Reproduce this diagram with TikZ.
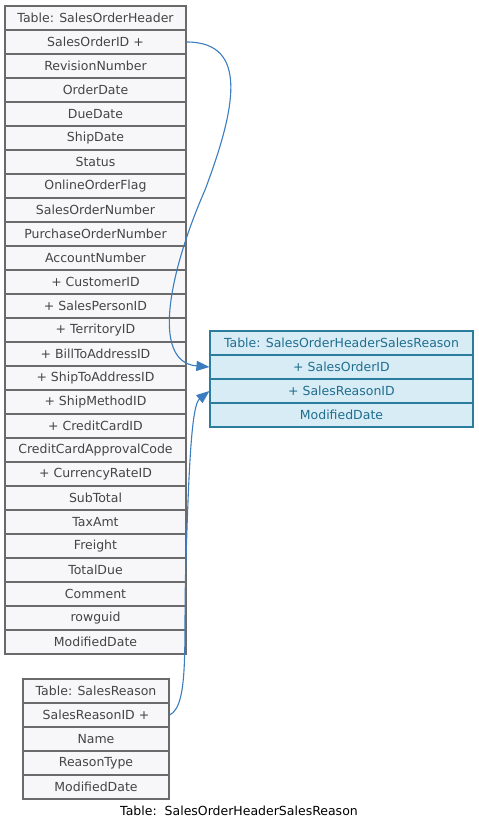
\documentclass[tikz,border=0pt]{standalone}
\usepackage{fontspec}
\setmainfont{DejaVu Sans}
\usetikzlibrary{arrows.meta}
\definecolor{gfill}{HTML}{F7F7F9}
\definecolor{gline}{HTML}{6A6A6A}
\definecolor{gtext}{HTML}{444444}
\definecolor{bfill}{HTML}{D8ECF6}
\definecolor{bline}{HTML}{2A7D9C}
\definecolor{btext}{HTML}{1F6E8E}
\definecolor{edgec}{HTML}{3B7DBF}
\begin{document}
\begin{tikzpicture}[x=1pt,y=-1pt,
  grayrow/.style={draw=gline,fill=gfill,text=gtext,line width=1.3pt,minimum height=24pt,inner sep=0pt,font=\fontsize{12.5}{14}\selectfont},
  bluerow/.style={draw=bline,fill=bfill,text=btext,line width=1.2pt,minimum height=24pt,inner sep=0pt,font=\fontsize{12.5}{14}\selectfont},
  relarrow/.style={draw=edgec,line width=1.1pt,-{Triangle[length=13pt,width=10pt]}},
  lbl/.style={text=black,font=\fontsize{12.5}{14}\selectfont}]
\useasboundingbox (0,0) rectangle (479,831);
\fill[white] (0,0) rectangle (479,831);
% main table
\foreach \t [count=\i from 0] in {Table: SalesOrderHeader,SalesOrderID +,RevisionNumber,OrderDate,DueDate,ShipDate,Status,OnlineOrderFlag,SalesOrderNumber,PurchaseOrderNumber,AccountNumber,+ CustomerID,+ SalesPersonID,+ TerritoryID,+ BillToAddressID,+ ShipToAddressID,+ ShipMethodID,+ CreditCardID,CreditCardApprovalCode,+ CurrencyRateID,SubTotal,TaxAmt,Freight,TotalDue,Comment,rowguid,ModifiedDate}
  \node[grayrow,minimum width=181pt] (m\i) at (95.5,18+24*\i) {\t};
% link table
\foreach \t [count=\i from 0] in {Table: SalesOrderHeaderSalesReason,+ SalesOrderID,+ SalesReasonID,ModifiedDate}
  \node[bluerow,minimum width=263pt] (r\i) at (341.5,343+24*\i) {\t};
% sales reason table
\foreach \t [count=\i from 0] in {Table: SalesReason,SalesReasonID +,Name,ReasonType,ModifiedDate}
  \node[grayrow,minimum width=146pt] (s\i) at (96,691+24*\i) {\t};
\node[lbl] (cap) at (239,811) {Table:\ \ SalesOrderHeaderSalesReason};
\coordinate (e1a) at (205,190);
\coordinate (e2a) at (186,560);
\draw[relarrow] (m1.east) .. controls (250,42) and (235,110) .. (e1a) .. controls (170,270) and (150,362) .. (r1.west);
\draw[relarrow] (s1.east) .. controls (190,705) and (183,640) .. (e2a) .. controls (189,460) and (192,405) .. (r2.west);
\end{tikzpicture}
\end{document}
